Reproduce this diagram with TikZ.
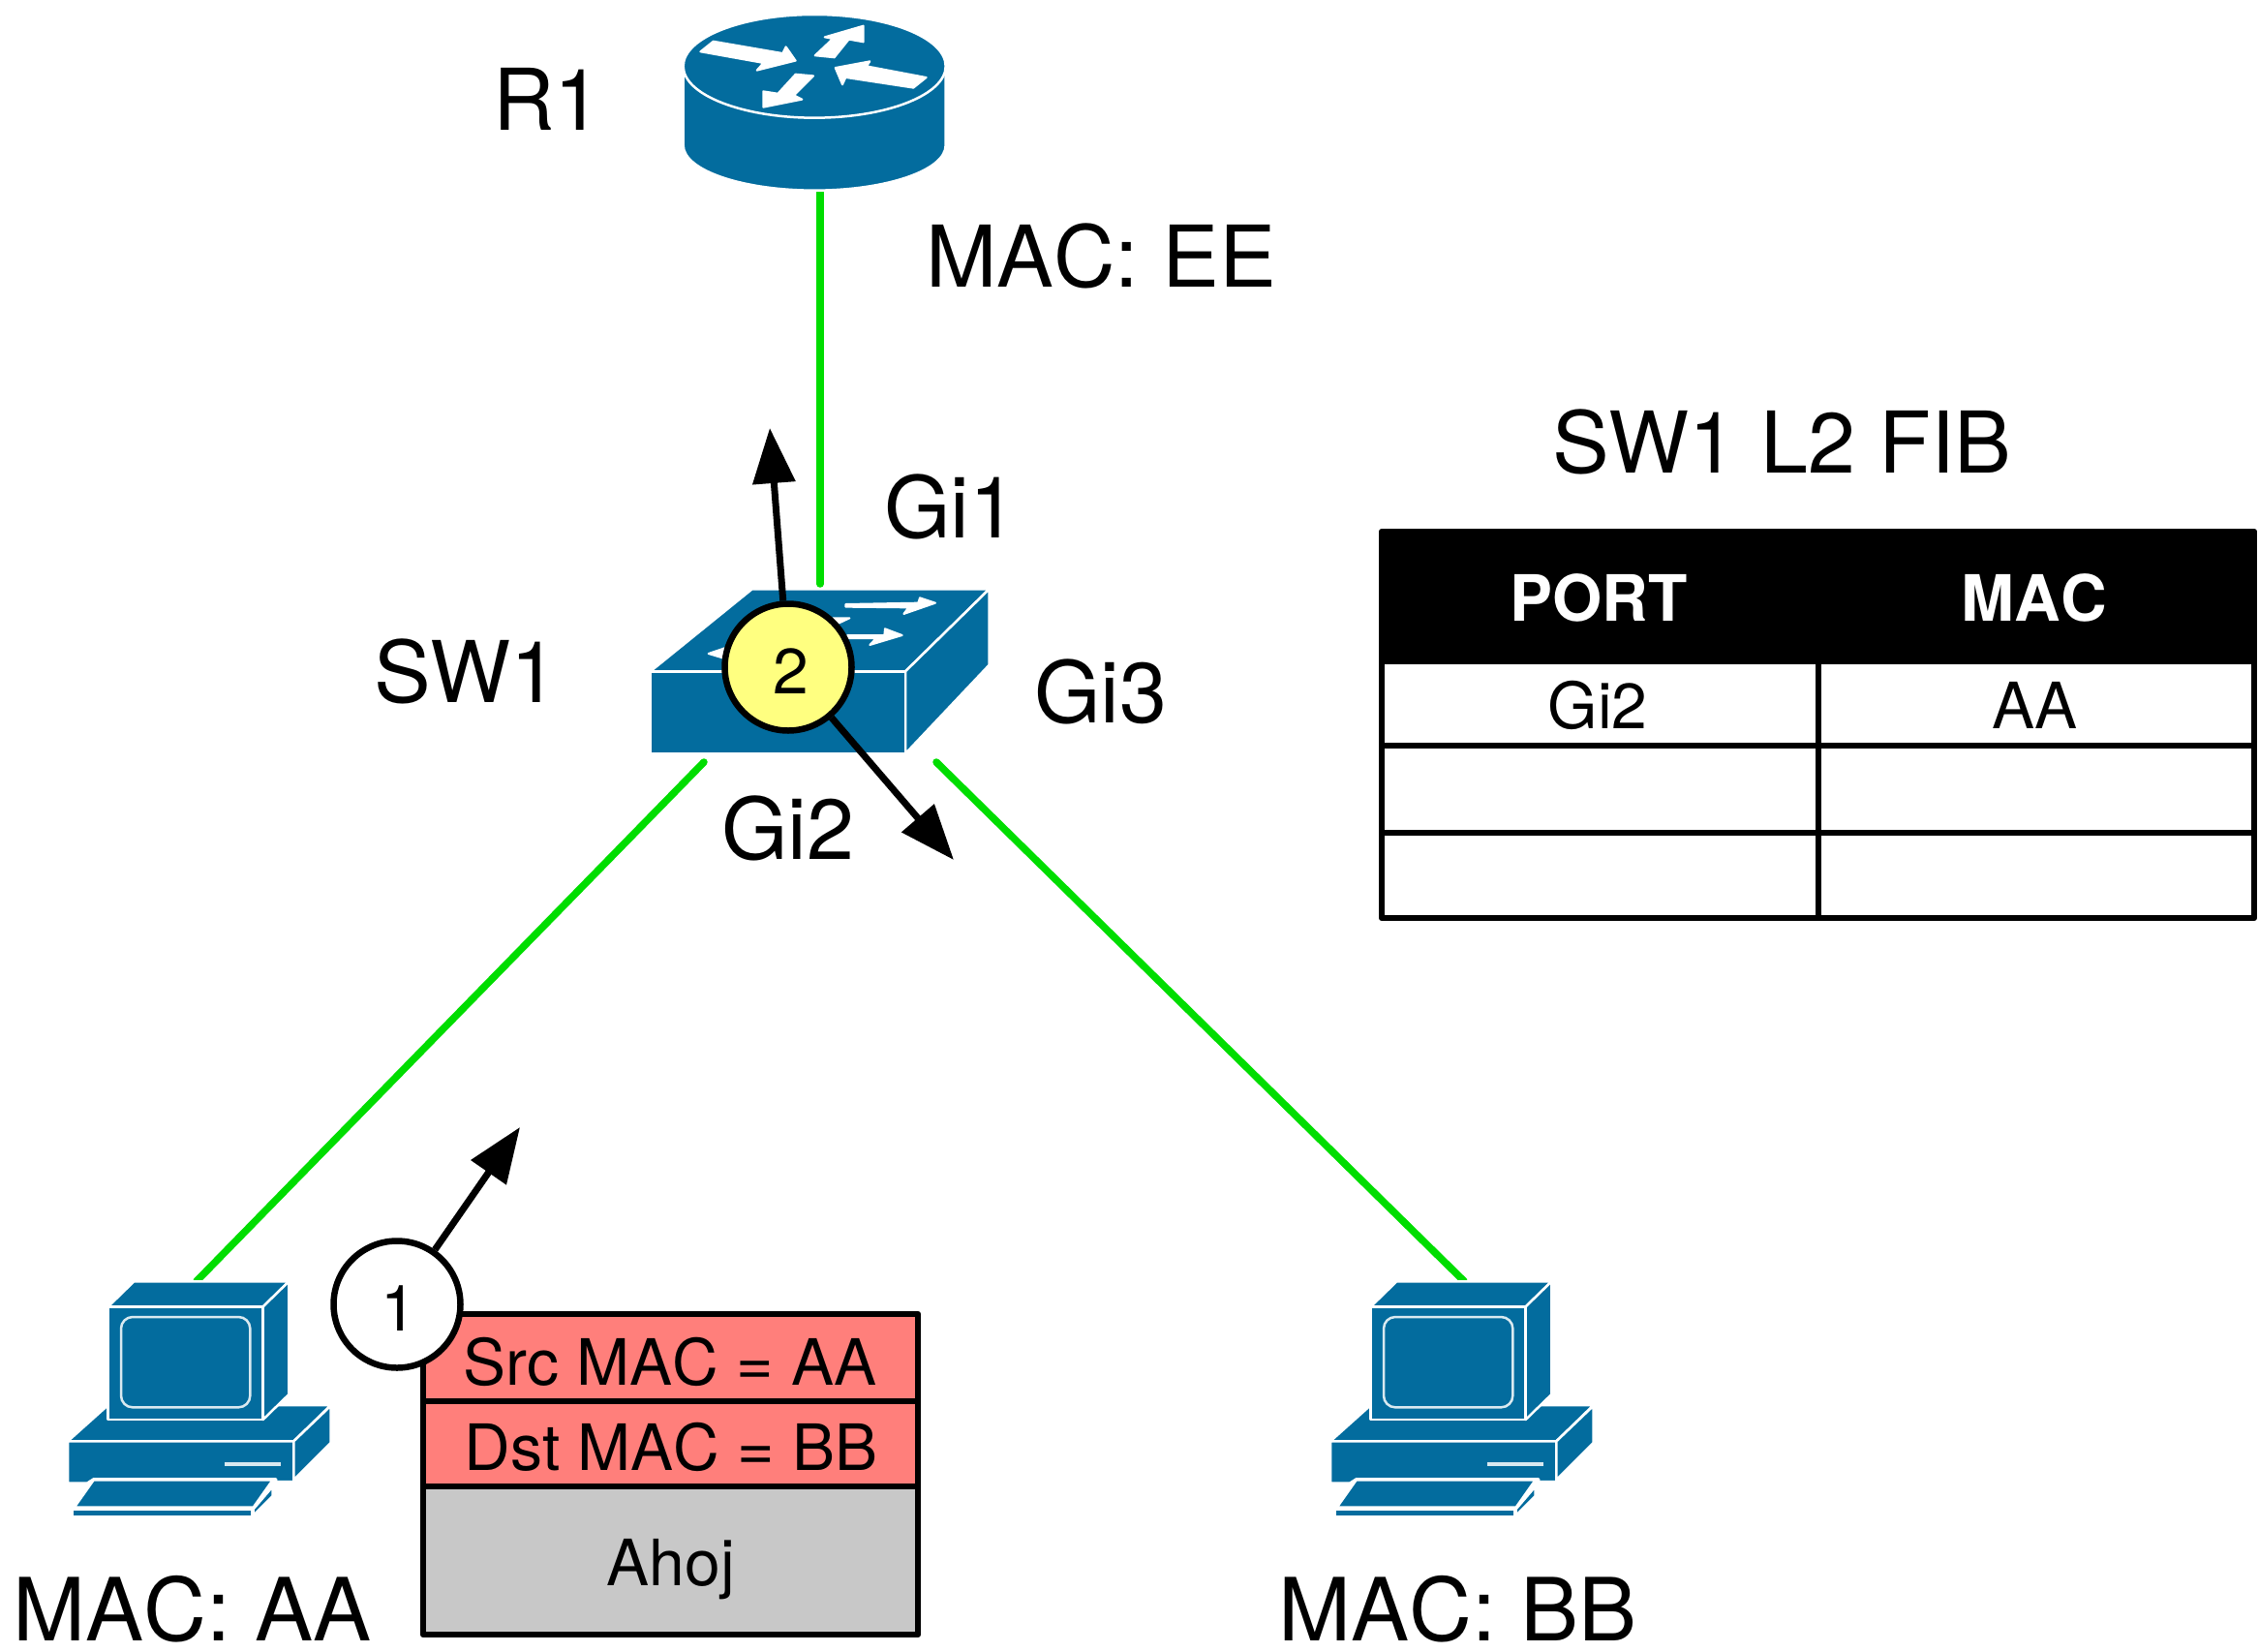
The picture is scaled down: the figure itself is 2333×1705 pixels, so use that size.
\documentclass[tikz,border=0pt]{standalone}
\usepackage{fontspec}
\setmainfont[Kerning=Off]{TeX Gyre Heros}
\usetikzlibrary{arrows.meta}
\definecolor{iconblue}{HTML}{036C9E}
\definecolor{linkgreen}{HTML}{00DD00}
\definecolor{pktred}{HTML}{FF7F7B}
\definecolor{pktgrey}{HTML}{C8C8C8}
\definecolor{stepyellow}{HTML}{FFFF80}
\newcommand{\fsbig}{\fontsize{88}{88}\selectfont}
\newcommand{\fswide}{\fontsize{90}{90}\selectfont}
\newcommand{\fsmid}{\fontsize{66}{66}\selectfont}
\tikzset{
  lbl/.style={inner sep=0pt,anchor=base west,font=\fsbig},
  midlbl/.style={inner sep=0pt,anchor=base,font=\fsmid},
  link/.style={draw=linkgreen,line width=7.5pt,line cap=round},
  flow/.style={draw=black,line width=7pt,-{Triangle[length=57pt,width=43pt]}},
  stepmark/.style={circle,draw=black,line width=6.5pt,minimum size=131pt,inner sep=0pt,font=\fsmid,text height=55pt,text depth=0pt},
  gridline/.style={draw=black,line width=6.5pt,line join=round},
  iconface/.style={fill=iconblue,draw=white,line width=2.5pt,line join=round},
  iconmark/.style={fill=white,draw=white,line width=2pt,line join=round},
  pics/pcicon/.style={code={
    \begin{scope}[x=0.33333pt,y=-0.33333pt]
      % keyboard
      \path[iconface] (110,800) -- (170,715) -- (725,715) -- (665,800) -- cycle;
      \path[iconface] (105,805) -- (660,805) -- (660,830) -- (105,830) -- cycle;
      \path[iconface] (665,805) -- (725,735) -- (725,765) -- (665,825) -- cycle;
      % base
      \path[iconface] (90,595) -- (215,483) -- (905,483) -- (790,595) -- cycle;
      \path[iconface] (90,595) -- (790,595) -- (790,720) -- (735,720) -- (735,712) -- (170,712) -- (150,725) -- (90,725) -- cycle;
      \path[iconface] (790,595) -- (905,485) -- (905,600) -- (790,715) -- cycle;
      \path[fill=white!85!iconblue] (575,660) rectangle (750,673);
      % monitor
      \path[iconface] (215,178) -- (295,100) -- (775,100) -- (695,178) -- cycle;
      \path[iconface] (695,178) -- (775,100) -- (775,450) -- (695,528) -- cycle;
      \path[iconface] (215,178) rectangle (695,528);
      \path[draw=white!85!iconblue,line width=2.5pt,rounded corners=12pt] (255,210) rectangle (655,490);
    \end{scope}
  }}
}
\begin{document}
\begin{tikzpicture}[x=1pt,y=-1pt]
\useasboundingbox (0,0) rectangle (2333,1705);

% connector end points
\coordinate (r1port) at (847,197);
\coordinate (swtop) at (847,603);
\coordinate (swleft) at (727,787);
\coordinate (swright) at (967,787);
\coordinate (pcaport) at (203,1323);
\coordinate (pcbport) at (1512,1323);
\coordinate (tipone) at (537,1164);
\coordinate (tipup) at (795,442);
\coordinate (tipdown) at (985,888);

% links
\draw[link] (r1port) -- (swtop);
\draw[link] (swleft) -- (pcaport);
\draw[link] (swright) -- (pcbport);

% router
\begin{scope}[shift={(660,0)},x=0.33333pt,y=-0.33333pt]
  \path[iconface] (137,190) -- (137,450) arc[start angle=180,end angle=0,x radius=406.5,y radius=140] -- (950,190) -- cycle;
  \path[iconface] (543.5,205) ellipse[x radius=406.5,y radius=160];
  \path[iconmark] (190,160) -- (230,128) -- (445,165) -- (455,145) -- (485,188) -- (365,218) -- (385,195) -- cycle;
  \path[iconmark] (545,172) -- (600,120) -- (575,115) -- (695,80) -- (695,130) -- (650,122) -- (605,178) -- cycle;
  \path[iconmark] (890,240) -- (850,272) -- (640,240) -- (630,262) -- (608,210) -- (715,190) -- (705,205) -- cycle;
  \path[iconmark] (540,235) -- (480,295) -- (505,308) -- (385,332) -- (385,283) -- (430,290) -- (485,230) -- cycle;
\end{scope}

% switch
\begin{scope}[shift={(640,560)},x=0.33333pt,y=-0.33333pt]
  \path[iconface] (95,400) -- (410,145) -- (1145,145) -- (885,400) -- cycle;
  \path[iconface] (885,400) -- (1145,145) -- (1145,380) -- (885,655) -- cycle;
  \path[iconface] (95,400) rectangle (885,655);
  \path[iconmark] (700,192) -- (925,188) -- (930,172) -- (978,188) -- (880,222) -- (895,202) -- (700,200) -- cycle;
  \path[iconmark] (705,288) -- (820,288) -- (822,268) -- (875,288) -- (775,318) -- (795,297) -- (705,297) -- cycle;
  \path[iconmark] (660,235) -- (712,235) -- (680,250) -- (660,250) -- cycle;
  \path[iconmark] (275,345) -- (325,328) -- (325,360) -- cycle;
\end{scope}

% PCs
\pic at (40,1290) {pcicon};
\pic at (1344,1290) {pcicon};

% labels
\node[lbl] (r1lbl) at (509,134) {R1};
\node[lbl] (maceelbl) at (956,296) {MAC: EE};
\node[lbl] (swlbl) at (386,725) {SW1};
\node[lbl] (gionelbl) at (913,555) {Gi1};
\node[lbl] (githreelbl) at (1068,746) {Gi3};
\node[lbl] (gitwolbl) at (745,887) {Gi2};
\node[lbl,font=\fswide] (macaalbl) at (13,1694) {MAC: AA};
\node[lbl,font=\fswide] (macbblbl) at (1320,1694) {MAC: BB};
\node[lbl] (fiblbl) at (1603,488) {SW1 L2 FIB};

% FIB table
\path[fill=black] (1427,549) rectangle (2328,686);
\draw[gridline] (1427,549) rectangle (2328,948);
\draw[gridline] (1878,549) -- (1878,948);
\draw[gridline] (1427,770) -- (2328,770);
\draw[gridline] (1427,860) -- (2328,860);
\node[midlbl,text=white,font=\fsmid\bfseries] (thport) at (1651,641) {PORT};
\node[midlbl,text=white,font=\fsmid\bfseries] (thmac) at (2101,641) {MAC};
\node[midlbl] (tdport) at (1650,752) {Gi2};
\node[midlbl] (tdmac) at (2101,752) {AA};

% packet
\path[fill=pktred] (437,1357) rectangle (948,1535);
\path[fill=pktgrey] (437,1535) rectangle (948,1688);
\draw[gridline] (437,1357) rectangle (948,1688);
\draw[gridline] (437,1447) -- (948,1447);
\draw[gridline] (437,1535) -- (948,1535);
\node[midlbl] (pktsrc) at (692,1430) {Src MAC = AA};
\node[midlbl] (pktdst) at (693,1518) {Dst MAC = BB};
\node[midlbl] (pktdata) at (693,1637) {Ahoj};

% step marks and flow arrows
\node[stepmark,fill=white] (stepone) at (410,1347) {\hspace*{4pt}1};
\node[stepmark,fill=stepyellow] (steptwo) at (814,689) {\hspace*{5pt}2};
\draw[flow] (stepone) -- (tipone);
\draw[flow] (steptwo) -- (tipup);
\draw[flow] (steptwo) -- (tipdown);
\end{tikzpicture}
\end{document}
